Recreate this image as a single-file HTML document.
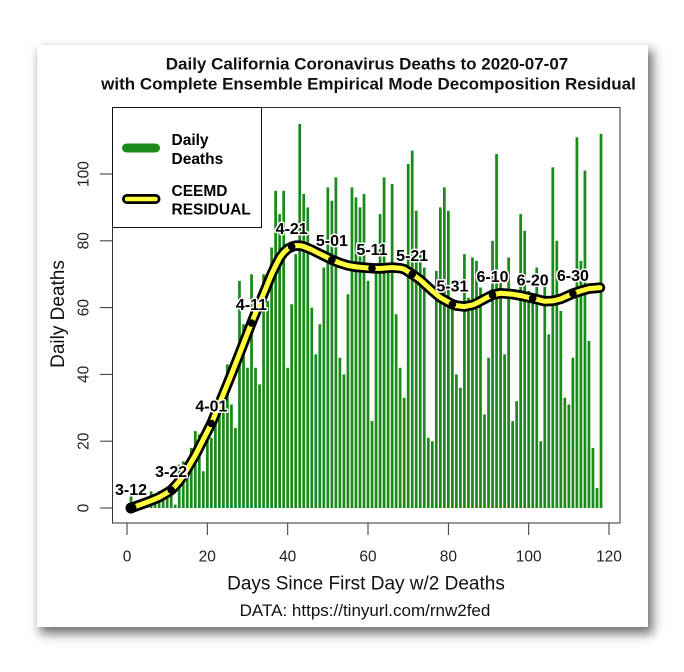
<!DOCTYPE html>
<html><head><meta charset="utf-8"><style>
html,body{margin:0;padding:0;background:#fff;}
body{width:684px;height:672px;position:relative;overflow:hidden;}
.card{position:absolute;left:37px;top:45px;width:611px;height:582px;background:#fff;box-shadow:4px 6px 10px 1px rgba(0,0,0,0.55);}
svg{position:absolute;left:0;top:0;}
text{font-family:"Liberation Sans",Arial,sans-serif;}
.lab{font-weight:bold;font-size:16px;fill:#000;stroke:#fff;stroke-width:3;paint-order:stroke;stroke-linejoin:round;text-anchor:middle;}
.tk{font-size:15.5px;fill:#222;text-anchor:middle;}
</style></head><body>
<div class="card"></div>
<svg width="684" height="672" viewBox="0 0 684 672">
<!-- bars -->
<g transform="translate(127 508) scale(4.017 -3.34)">
<path fill="none" stroke="#1a8a1a" stroke-width="0.68" d="M1 0v4M2 0v1M3 0v0.3M4 0v2M5 0v1M6 0v5M7 0v3M8 0v5M9 0v4M10 0v3M11 0v6M12 0v1M13 0v13M14 0v14M15 0v12M16 0v18M17 0v23M18 0v22M19 0v11M20 0v25M21 0v21M22 0v29M23 0v31M24 0v36M25 0v43M26 0v31M27 0v24M28 0v68M29 0v55M30 0v42M31 0v70M32 0v42M33 0v37M34 0v70M35 0v62M36 0v78M37 0v95M38 0v88M39 0v95M40 0v42M41 0v61M42 0v76M43 0v115M44 0v94M45 0v90M46 0v60M47 0v46M48 0v55M49 0v72M50 0v96M51 0v92M52 0v99M53 0v45M54 0v40M55 0v64M56 0v96M57 0v93M58 0v90M59 0v94M60 0v68M61 0v26M62 0v72M63 0v88M64 0v99M65 0v73M66 0v97M67 0v58M68 0v42M69 0v33M70 0v103M71 0v107M72 0v89M73 0v76M74 0v72M75 0v21M76 0v20M77 0v71M78 0v90M79 0v96M80 0v89M81 0v60M82 0v40M83 0v36M84 0v76M85 0v63M86 0v75M87 0v74M88 0v66M89 0v28M90 0v45M91 0v80M92 0v106M93 0v69M94 0v46M95 0v75M96 0v26M97 0v32M98 0v88M99 0v83M100 0v65M101 0v62M102 0v72M103 0v20M104 0v68M105 0v52M106 0v102M107 0v80M108 0v59M109 0v33M110 0v31M111 0v45M112 0v111M113 0v74M114 0v101M115 0v50M116 0v18M117 0v6M118 0v112"/>
</g>
<!-- plot frame -->
<rect x="112.5" y="107.5" width="507.5" height="415.5" fill="none" stroke="#333" stroke-width="1"/>
<!-- legend -->
<rect x="112.5" y="107.5" width="149" height="120" fill="#fff" stroke="#111" stroke-width="1"/>
<line x1="126.5" y1="148" x2="155.5" y2="148" stroke="#1a8a1a" stroke-width="9" stroke-linecap="round"/>
<line x1="127" y1="199" x2="155.5" y2="199" stroke="#000" stroke-width="10" stroke-linecap="round"/>
<line x1="127" y1="199" x2="155.5" y2="199" stroke="#ffff3c" stroke-width="4.5" stroke-linecap="round"/>
<g font-weight="bold" font-size="15.5px" fill="#000">
<text x="171.5" y="145">Daily</text>
<text x="171.5" y="164">Deaths</text>
<text x="171.5" y="196">CEEMD</text>
<text x="171.5" y="214.3">RESIDUAL</text>
</g>
<!-- curve -->
<g fill="none" stroke-linecap="round" stroke-linejoin="round">
<polyline stroke="#000" stroke-width="10.5" points="131.0,508.0 143.1,503.7 151.1,500.7 159.1,497.3 163.2,495.0 167.2,492.7 171.2,490.0 175.2,486.0 179.2,481.3 183.2,475.9 195.3,455.2 211.4,423.5 231.4,374.4 251.5,323.0 271.6,274.2 275.6,265.8 279.6,258.0 283.7,252.5 287.7,248.8 291.7,246.8 295.7,245.6 299.7,245.6 303.7,246.5 311.8,249.8 319.8,253.8 331.9,259.8 339.9,263.0 348.0,265.5 356.0,266.9 364.0,267.6 372.0,268.2 380.1,268.5 392.1,267.5 400.2,268.2 404.2,269.2 412.2,274.2 420.2,279.9 432.3,290.9 440.3,297.6 452.4,304.3 456.4,305.6 464.4,306.6 472.5,304.9 476.5,303.3 484.5,298.9 492.5,294.9 500.6,293.2 512.6,294.2 520.7,295.6 532.7,298.3 544.8,301.3 552.8,300.9 560.8,298.9 572.9,293.6 580.9,290.9 589.0,288.6 600.0,287.6"/>
<polyline stroke="#ffff3c" stroke-width="5" points="131.0,508.0 143.1,503.7 151.1,500.7 159.1,497.3 163.2,495.0 167.2,492.7 171.2,490.0 175.2,486.0 179.2,481.3 183.2,475.9 195.3,455.2 211.4,423.5 231.4,374.4 251.5,323.0 271.6,274.2 275.6,265.8 279.6,258.0 283.7,252.5 287.7,248.8 291.7,246.8 295.7,245.6 299.7,245.6 303.7,246.5 311.8,249.8 319.8,253.8 331.9,259.8 339.9,263.0 348.0,265.5 356.0,266.9 364.0,267.6 372.0,268.2 380.1,268.5 392.1,267.5 400.2,268.2 404.2,269.2 412.2,274.2 420.2,279.9 432.3,290.9 440.3,297.6 452.4,304.3 456.4,305.6 464.4,306.6 472.5,304.9 476.5,303.3 484.5,298.9 492.5,294.9 500.6,293.2 512.6,294.2 520.7,295.6 532.7,298.3 544.8,301.3 552.8,300.9 560.8,298.9 572.9,293.6 580.9,290.9 589.0,288.6 600.0,287.6"/>
</g>
<g fill="#000">
<circle cx="131" cy="508" r="5.5"/>
<circle cx="171.2" cy="490" r="3.8"/>
<circle cx="211.4" cy="423.5" r="3.8"/>
<circle cx="251.5" cy="323" r="3.8"/>
<circle cx="291.7" cy="246.8" r="3.8"/>
<circle cx="331.9" cy="259.8" r="3.8"/>
<circle cx="372" cy="268.2" r="3.8"/>
<circle cx="412.2" cy="274.2" r="3.8"/>
<circle cx="452.4" cy="304.3" r="3.8"/>
<circle cx="492.5" cy="294.9" r="3.8"/>
<circle cx="532.7" cy="298.3" r="3.8"/>
<circle cx="572.9" cy="293.6" r="3.8"/>
</g>
<!-- date labels -->
<text class="lab" x="131" y="495">3-12</text>
<text class="lab" x="171.2" y="477">3-22</text>
<text class="lab" x="211.4" y="411.5">4-01</text>
<text class="lab" x="251.5" y="310">4-11</text>
<text class="lab" x="291.7" y="233.8">4-21</text>
<text class="lab" x="331.9" y="246">5-01</text>
<text class="lab" x="372" y="255.2">5-11</text>
<text class="lab" x="412.2" y="261.2">5-21</text>
<text class="lab" x="452.4" y="291.3">5-31</text>
<text class="lab" x="492.5" y="281.9">6-10</text>
<text class="lab" x="532.7" y="285.3">6-20</text>
<text class="lab" x="572.9" y="281">6-30</text>
<!-- y axis -->
<g stroke="#333" stroke-width="1">
<line x1="100" y1="508" x2="112" y2="508"/>
<line x1="100" y1="441.2" x2="112" y2="441.2"/>
<line x1="100" y1="374.4" x2="112" y2="374.4"/>
<line x1="100" y1="307.6" x2="112" y2="307.6"/>
<line x1="100" y1="240.8" x2="112" y2="240.8"/>
<line x1="100" y1="174" x2="112" y2="174"/>
</g>
<text class="tk" transform="translate(88.7 508) rotate(-90)">0</text>
<text class="tk" transform="translate(88.7 441.2) rotate(-90)">20</text>
<text class="tk" transform="translate(88.7 374.4) rotate(-90)">40</text>
<text class="tk" transform="translate(88.7 307.6) rotate(-90)">60</text>
<text class="tk" transform="translate(88.7 240.8) rotate(-90)">80</text>
<text class="tk" transform="translate(88.7 174) rotate(-90)">100</text>
<!-- x axis -->
<g stroke="#333" stroke-width="1">
<line x1="127" y1="523" x2="127" y2="535"/>
<line x1="207.3" y1="523" x2="207.3" y2="535"/>
<line x1="287.7" y1="523" x2="287.7" y2="535"/>
<line x1="368" y1="523" x2="368" y2="535"/>
<line x1="448.4" y1="523" x2="448.4" y2="535"/>
<line x1="528.7" y1="523" x2="528.7" y2="535"/>
<line x1="609" y1="523" x2="609" y2="535"/>
</g>
<text class="tk" x="127" y="561.5">0</text>
<text class="tk" x="207.3" y="561.5">20</text>
<text class="tk" x="287.7" y="561.5">40</text>
<text class="tk" x="368" y="561.5">60</text>
<text class="tk" x="448.4" y="561.5">80</text>
<text class="tk" x="528.7" y="561.5">100</text>
<text class="tk" x="609" y="561.5">120</text>
<!-- axis titles -->
<text x="366" y="589.3" font-size="19px" fill="#111" text-anchor="middle">Days Since First Day w/2 Deaths</text>
<text transform="translate(64 314) rotate(-90)" font-size="19px" fill="#111" text-anchor="middle">Daily Deaths</text>
<text x="365" y="616" font-size="17px" fill="#111" text-anchor="middle">DATA: https://tinyurl.com/rnw2fed</text>
<!-- title -->
<text x="367" y="69.3" font-size="17px" font-weight="bold" fill="#111" text-anchor="middle">Daily California Coronavirus Deaths to 2020-07-07</text>
<text x="368.5" y="89.3" font-size="17px" font-weight="bold" fill="#111" text-anchor="middle">with Complete Ensemble Empirical Mode Decomposition Residual</text>
</svg>
</body></html>
